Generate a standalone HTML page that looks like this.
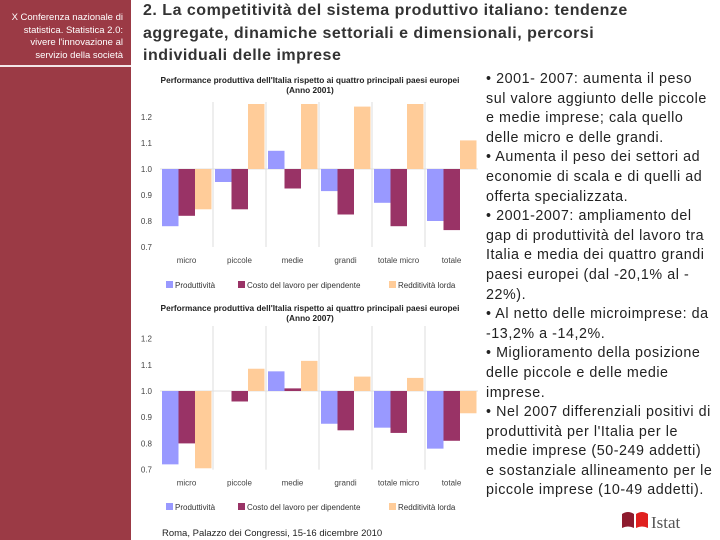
<!DOCTYPE html>
<html><head><meta charset="utf-8">
<style>
body{margin:0;width:720px;height:540px;overflow:hidden;background:#fff;font-family:"Liberation Sans",sans-serif;position:relative}
#side{position:absolute;left:0;top:0;width:131px;height:540px;background:#9b3a45}
#sideline{position:absolute;left:0;top:65px;width:131px;height:2px;background:#f3e6e8}
#sidetxt{position:absolute;left:4px;top:12px;width:119px;text-align:right;color:#fff;font-size:9.5px;line-height:12.5px}
#title{position:absolute;left:143px;top:0px;width:570px;color:#333;font-size:16px;font-weight:bold;line-height:22.5px;white-space:nowrap;letter-spacing:0.5px}
#bul{position:absolute;left:486px;top:70px;width:234px;color:#222;font-size:14.3px;line-height:19.6px;white-space:nowrap;letter-spacing:0.55px}
#foot{position:absolute;left:162px;top:528px;font-size:9.5px;color:#222}
svg{position:absolute;left:0;top:0}
</style></head><body>
<div id="side"></div>
<div id="sideline"></div>
<div id="sidetxt">X Conferenza nazionale di statistica. Statistica 2.0: vivere l'innovazione al servizio della società</div>
<div id="title">2. La competitività del sistema produttivo italiano: tendenze<br>aggregate, dinamiche settoriali e dimensionali, percorsi<br>individuali delle imprese</div>
<div id="bul">• 2001- 2007: aumenta il peso<br>sul valore aggiunto delle piccole<br>e medie imprese; cala quello<br>delle micro e delle grandi.<br>• Aumenta il peso dei settori ad<br>economie di scala e di quelli ad<br>offerta specializzata.<br>• 2001-2007: ampliamento del<br>gap di produttività del lavoro tra<br>Italia e media dei quattro grandi<br>paesi europei (dal -20,1% al -<br>22%).<br>• Al netto delle microimprese: da<br>-13,2% a -14,2%.<br>• Miglioramento della posizione<br>delle piccole e delle medie<br>imprese.<br>• Nel 2007 differenziali positivi di<br>produttività per l'Italia per le<br>medie imprese (50-249 addetti)<br>e sostanziale allineamento per le<br>piccole imprese (10-49 addetti).</div>
<div id="foot">Roma, Palazzo dei Congressi, 15-16 dicembre 2010</div>
<svg width="720" height="540" id="svg">
<g>
<path d="M622 514 q6 -4 12 0 v14 q-6 -3 -12 0z" fill="#8e1b2e"/>
<path d="M636 514 q6 -4 12 0 v14 q-6 -3 -12 0z" fill="#e0201f"/>
<text x="651" y="528" font-family="Liberation Serif,serif" font-size="17" fill="#555">Istat</text>
</g>
</svg>
<script>
const categories=["micro","piccole","medie","grandi","totale micro","totale"];
const ticks=[0.7,0.8,0.9,1.0,1.1,1.2];
const prod2001=[0.78,0.95,1.07,0.915,0.87,0.80];
const costo2001=[0.82,0.845,0.925,0.825,0.78,0.765];
const redd2001=[0.845,1.25,1.25,1.24,1.25,1.11];
const prod2007=[0.72,1.0,1.075,0.875,0.86,0.78];
const costo2007=[0.80,0.96,1.01,0.85,0.84,0.81];
const redd2007=[0.705,1.085,1.115,1.055,1.05,0.915];
const colors=["#9999ff","#993366","#ffcc99"];
const legendLabels=["Produttività","Costo del lavoro per dipendente","Redditività lorda"];
const NS="http://www.w3.org/2000/svg";
const svg=document.getElementById('svg');
function mk(t,a,p){const e=document.createElementNS(NS,t);for(const k in a)e.setAttribute(k,a[k]);(p||svg).appendChild(e);return e;}
function chart(cfg,series,name){
  const g=mk('g',{});
  
  
  const y=v=>cfg.y1+(1.0-v)*cfg.k;
  const x0=cfg.x0,cw=cfg.cw;
  const t1=mk('text',{x:310,y:cfg.ty,'text-anchor':'middle','font-size':8.3,'font-weight':'bold',fill:'#222'},g);t1.textContent=cfg.title;
  
  const t2=mk('text',{x:310,y:cfg.ty+10,'text-anchor':'middle','font-size':8.3,'font-weight':'bold',fill:'#222'},g);t2.textContent=cfg.year;
  for(let i=1;i<categories.length;i++){const l=mk('line',{x1:x0+i*cw,x2:x0+i*cw,y1:cfg.top,y2:y(0.7),stroke:'#ddd'},g);
    }
  mk('line',{x1:x0,x2:x0+6*cw,y1:y(1),y2:y(1),stroke:'#e0e0e0'},g);
  ticks.forEach(t=>{const e=mk('text',{x:152,y:y(t)+3,'text-anchor':'end','font-size':8,fill:'#444'},g);e.textContent=t.toFixed(1);
    });
  const bw=16.5;
  categories.forEach((c,i)=>{
    series.forEach((s,j)=>{
      const v=Math.min(s[i],cfg.max);
      const yv=y(v),yb=y(1);
      const r=mk('rect',{x:x0+i*cw+2+j*bw,y:Math.min(yv,yb),width:bw,height:Math.abs(yv-yb),fill:colors[j]},g);
      
      
    });
    const e=mk('text',{x:x0+i*cw+cw/2,y:y(0.7)+16,'text-anchor':'middle','font-size':8,fill:'#444'},g);e.textContent=c;
    
  });
  const lx=[166,238,389];
  legendLabels.forEach((l,j)=>{
    const lg=mk('g',{},g);
    
    
    mk('rect',{x:lx[j],y:cfg.ly-6,width:7,height:7,fill:colors[j]},lg);
    const e=mk('text',{x:lx[j]+9,y:cfg.ly+1,'font-size':8,fill:'#333'},lg);e.textContent=l;
  });
}
chart({x0:160,cw:53,y1:169,k:260,top:102,max:1.255,ty:83,ly:287,
  title:"Performance produttiva dell'Italia rispetto ai quattro principali paesi europei",year:"(Anno 2001)"},
  [prod2001,costo2001,redd2001],'chart-2001');
chart({x0:160,cw:53,y1:391,k:262,top:326,max:1.3,ty:311,ly:509,
  title:"Performance produttiva dell'Italia rispetto ai quattro principali paesi europei",year:"(Anno 2007)"},
  [prod2007,costo2007,redd2007],'chart-2007');
</script>
</body></html>
